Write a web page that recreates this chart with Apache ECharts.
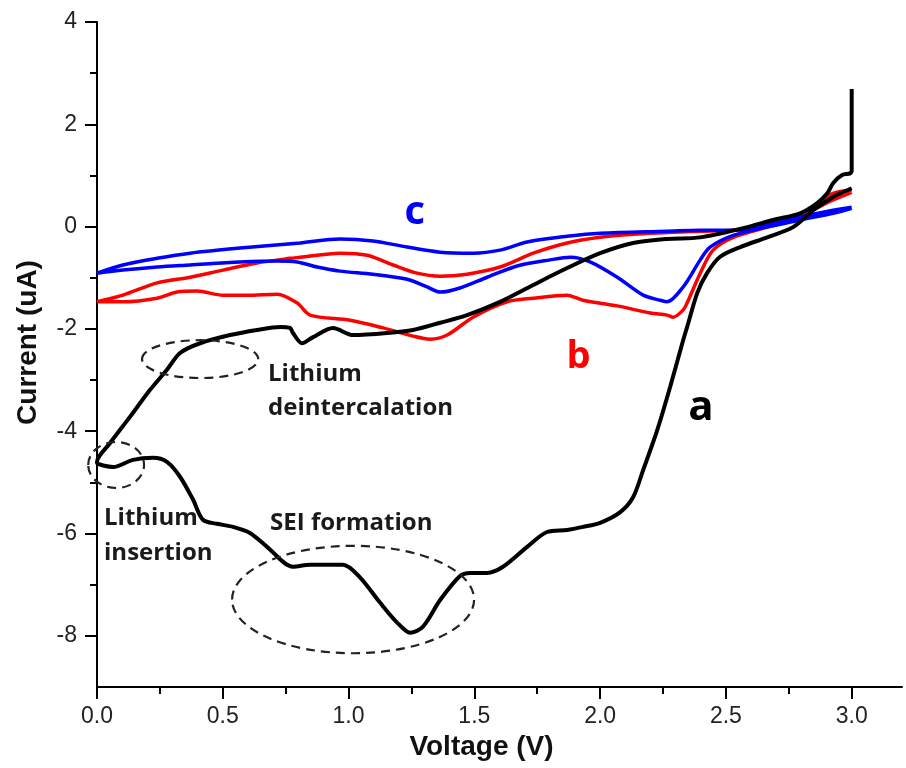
<!DOCTYPE html>
<html>
<head>
<meta charset="utf-8">
<script src="https://cdn.jsdelivr.net/npm/echarts@6/dist/echarts.min.js"></script>
<style>
  html, body { margin: 0; padding: 0; background: #fff; }
  #chart { width: 906px; height: 768px; }
</style>
</head>
<body>
<div id="chart"></div>
<script>
// [voltage (V), current (uA)]
// curve a - cathodic sweep 3.0 -> 0.0
const aCathodic = [
  [3.0, 0.75], [2.954, 0.65], [2.926, 0.58], [2.847, 0.32], [2.767, -0.01], [2.664, -0.21],
  [2.557, -0.40], [2.477, -0.59], [2.425, -0.91], [2.386, -1.30], [2.346, -1.96], [2.330, -2.22],
  [2.278, -3.14], [2.227, -3.98], [2.171, -4.76], [2.131, -5.29], [2.080, -5.58], [2.000, -5.79],
  [1.932, -5.87], [1.869, -5.93], [1.789, -5.97], [1.710, -6.26], [1.614, -6.65], [1.551, -6.77],
  [1.483, -6.77], [1.443, -6.83], [1.364, -7.30], [1.296, -7.82], [1.245, -7.94], [1.193, -7.74],
  [1.125, -7.35], [1.046, -6.86], [0.978, -6.61], [0.847, -6.61], [0.779, -6.65], [0.676, -6.26],
  [0.608, -5.99], [0.541, -5.87], [0.477, -5.81], [0.421, -5.73], [0.382, -5.34], [0.330, -4.89],
  [0.278, -4.60], [0.223, -4.52], [0.143, -4.56], [0.064, -4.70], [0.0, -4.62]
];
// curve a - anodic sweep 0.0 -> 3.0
const aAnodic = [
  [0.0, -4.60], [0.052, -4.23], [0.131, -3.72], [0.211, -3.19], [0.278, -2.80], [0.330, -2.47],
  [0.410, -2.28], [0.529, -2.12], [0.636, -2.02], [0.728, -1.96], [0.767, -1.98], [0.779, -2.08],
  [0.815, -2.28], [0.859, -2.16], [0.938, -1.98], [1.018, -2.12], [1.153, -2.08], [1.256, -2.02],
  [1.364, -1.88], [1.471, -1.73], [1.602, -1.47], [1.734, -1.14], [1.869, -0.81], [2.000, -0.52],
  [2.131, -0.32], [2.266, -0.24], [2.398, -0.21], [2.569, -0.03], [2.688, 0.13], [2.795, 0.26],
  [2.863, 0.46], [2.903, 0.65], [2.926, 0.85], [2.962, 1.01], [2.994, 1.04], [3.0, 1.10],
  [3.0, 2.69]
];
// curve b
const bCathodic = [
  [3.0, 0.71], [2.926, 0.65], [2.875, 0.46], [2.795, 0.19], [2.664, -0.01], [2.529, -0.21],
  [2.449, -0.46], [2.398, -0.91], [2.346, -1.49], [2.330, -1.63], [2.290, -1.77], [2.266, -1.73],
  [2.199, -1.69], [2.068, -1.55], [1.932, -1.44], [1.869, -1.34], [1.734, -1.40], [1.630, -1.47],
  [1.495, -1.77], [1.392, -2.12], [1.324, -2.20], [1.256, -2.14], [1.137, -1.98], [1.006, -1.83],
  [0.847, -1.73], [0.795, -1.49], [0.716, -1.32], [0.596, -1.34], [0.501, -1.34], [0.398, -1.26],
  [0.318, -1.28], [0.239, -1.40], [0.103, -1.47], [0.0, -1.47]
];
const bAnodic = [
  [0.0, -1.47], [0.103, -1.34], [0.239, -1.10], [0.370, -0.99], [0.501, -0.85], [0.636, -0.71],
  [0.767, -0.62], [0.807, -0.60], [0.966, -0.52], [1.074, -0.56], [1.177, -0.75], [1.272, -0.91],
  [1.364, -0.97], [1.471, -0.93], [1.602, -0.79], [1.734, -0.52], [1.869, -0.32], [2.000, -0.21],
  [2.131, -0.15], [2.398, -0.09], [2.529, -0.07], [2.664, 0.07], [2.795, 0.22], [2.926, 0.52],
  [3.0, 0.67]
];
// curve c
const cCathodic = [
  [3.0, 0.36], [2.926, 0.26], [2.795, 0.13], [2.664, -0.01], [2.529, -0.17], [2.437, -0.40],
  [2.398, -0.65], [2.330, -1.18], [2.266, -1.47], [2.239, -1.44], [2.171, -1.34], [2.068, -0.99],
  [1.960, -0.69], [1.881, -0.60], [1.801, -0.65], [1.670, -0.77], [1.551, -0.99], [1.443, -1.20],
  [1.364, -1.28], [1.312, -1.18], [1.233, -1.03], [1.097, -0.93], [0.966, -0.87], [0.875, -0.79],
  [0.795, -0.69], [0.716, -0.67], [0.569, -0.69], [0.370, -0.75], [0.239, -0.79], [0.103, -0.85],
  [0.0, -0.91]
];
const cAnodic = [
  [0.0, -0.91], [0.103, -0.75], [0.239, -0.62], [0.370, -0.52], [0.569, -0.42], [0.807, -0.32],
  [0.966, -0.24], [1.097, -0.28], [1.233, -0.40], [1.364, -0.50], [1.495, -0.52], [1.602, -0.46],
  [1.710, -0.30], [1.869, -0.19], [2.000, -0.13], [2.266, -0.09], [2.398, -0.07], [2.529, -0.07],
  [2.664, 0.03], [2.795, 0.19], [2.926, 0.32], [3.0, 0.38]
];

const xMajorTicks = [0, 0.5, 1.0, 1.5, 2.0, 2.5, 3.0];
const xMinorTicks = [0.25, 0.75, 1.25, 1.75, 2.25, 2.75];
const yMajorTicks = [-8, -6, -4, -2, 0, 2, 4];
const yMinorTicks = [-7, -5, -3, -1, 1, 3];

// annotations, in data units
const ellipses = [
  { c: [0.410, -2.59], rx: 0.231, ry: 0.37 },  // deintercalation
  { c: [0.076, -4.66], rx: 0.111, ry: 0.45 },  // insertion
  { c: [1.018, -7.29], rx: 0.481, ry: 1.05 }   // SEI
];
const notes = [
  { text: 'Lithium', at: [0.680, -2.88] },
  { text: 'deintercalation', at: [0.680, -3.55] },
  { text: 'Lithium', at: [0.028, -5.70] },
  { text: 'insertion', at: [0.028, -6.38] },
  { text: 'SEI formation', at: [0.688, -5.80] }
];
const curveLabels = [
  { text: 'a', at: [2.350, -3.55], color: '#000', size: 42 },
  { text: 'b', at: [1.866, -2.56], color: '#ff0000', size: 38 },
  { text: 'c', at: [1.222, 0.27], color: '#0000ff', size: 40 }
];

const chart = echarts.init(document.getElementById('chart'));

const tickFont = { fontFamily: 'Liberation Sans', fontSize: 23, color: '#222' };
const nameFont = { fontFamily: 'Liberation Sans', fontSize: 28, fontWeight: 'bold', color: '#111' };
const axisLineStyle = { color: '#000', width: 2 };

const option = {
  animation: false,
  grid: { left: 97, top: 22, right: 4, bottom: 81 },
  xAxis: [
    {
      type: 'value', min: 0, max: 3.2, interval: 0.5,
      name: 'Voltage (V)', nameLocation: 'middle', nameGap: 46,
      nameTextStyle: Object.assign({ padding: [0, 36, 0, 0] }, nameFont),
      axisLine: { show: true, onZero: false, lineStyle: axisLineStyle },
      axisTick: { show: true, length: 12, lineStyle: axisLineStyle, customValues: xMajorTicks },
      axisLabel: Object.assign({ margin: 18, customValues: xMajorTicks,
        formatter: v => v.toFixed(1) }, tickFont),
      splitLine: { show: false }
    },
    {
      type: 'value', min: 0, max: 3.2, interval: 0.5, position: 'bottom',
      axisLine: { show: false, onZero: false },
      axisTick: { show: true, length: 7, lineStyle: axisLineStyle, customValues: xMinorTicks },
      axisLabel: { show: false },
      splitLine: { show: false }
    }
  ],
  yAxis: [
    {
      type: 'value', min: -9, max: 4, interval: 1,
      name: 'Current (uA)', nameLocation: 'middle', nameGap: 55,
      nameTextStyle: Object.assign({ padding: [0, 0, 0, 24] }, nameFont),
      axisLine: { show: true, onZero: false, lineStyle: axisLineStyle },
      axisTick: { show: true, length: 12, lineStyle: axisLineStyle, customValues: yMajorTicks },
      axisLabel: Object.assign({ margin: 20, customValues: yMajorTicks }, tickFont),
      splitLine: { show: false }
    },
    {
      type: 'value', min: -9, max: 4, interval: 1, position: 'left',
      axisLine: { show: false, onZero: false },
      axisTick: { show: true, length: 7, lineStyle: axisLineStyle, customValues: yMinorTicks },
      axisLabel: { show: false },
      splitLine: { show: false }
    }
  ],
  series: [
    { name: 'a', color: '#000000', width: 4, data: aCathodic.concat(aAnodic) },
    { name: 'b', color: '#ff0000', width: 3.5, data: bCathodic.concat(bAnodic) },
    { name: 'c', color: '#0000ff', width: 3.5, data: cCathodic.concat(cAnodic) }
  ].map(s => ({
    type: 'line',
    name: s.name,
    data: s.data,
    showSymbol: false,
    smooth: 0.3,
    lineStyle: { color: s.color, width: s.width },
    z: s.name === 'a' ? 3 : 2
  }))
};

chart.setOption(option);

// annotations placed through the axes
const toPx = p => chart.convertToPixel({ xAxisIndex: 0, yAxisIndex: 0 }, p);
const graphic = [];
ellipses.forEach(e => {
  const c = toPx(e.c);
  const edge = toPx([e.c[0] + e.rx, e.c[1] + e.ry]);
  graphic.push({
    type: 'ellipse',
    shape: { cx: c[0], cy: c[1], rx: Math.abs(edge[0] - c[0]), ry: Math.abs(edge[1] - c[1]) },
    style: { fill: 'none', stroke: '#222', lineWidth: 2.2, lineDash: [9, 6] },
    z: 10
  });
});
notes.forEach(n => {
  const p = toPx(n.at);
  graphic.push({
    type: 'text', x: p[0], y: p[1], z: 11,
    style: { text: n.text, font: 'bold 24px "Open Sans"', fill: '#1a1a1a',
      align: 'left', verticalAlign: 'middle' }
  });
});
curveLabels.forEach(l => {
  const p = toPx(l.at);
  graphic.push({
    type: 'text', x: p[0], y: p[1], z: 11,
    style: { text: l.text, font: 'bold ' + l.size + 'px "Open Sans"', fill: l.color,
      align: 'left', verticalAlign: 'middle' }
  });
});
chart.setOption({ graphic: graphic });
</script>
</body>
</html>
